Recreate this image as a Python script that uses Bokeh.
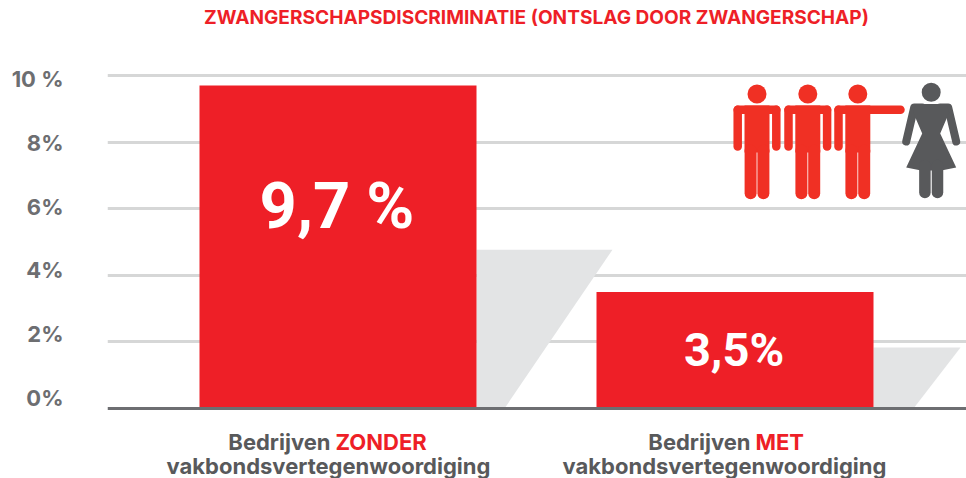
from bokeh.plotting import figure
from bokeh.models import Range1d, LinearAxis, FixedTicker, Grid, Span
from bokeh.core.properties import value
from bokeh.embed import file_html
from bokeh.resources import INLINE

# ---- data
title_text = "ZWANGERSCHAPSDISCRIMINATIE (ONTSLAG DOOR ZWANGERSCHAP)"
bar_values = [9.7, 3.5]
bar_labels = ["9,7 %", "3,5%"]
shadow_values = [4.77, 1.83]
cat_first = ["Bedrijven", "Bedrijven"]
cat_accent = ["ZONDER", "MET"]
cat_second = ["vakbondsvertegenwoordiging", "vakbondsvertegenwoordiging"]
tick_values = [0, 2, 4, 6, 8, 10]
tick_labels = ["0%", "2%", "4%", "6%", "8%", "10 %"]

# ---- style / layout
W, H = 966, 478
RED = "#ee1f27"
MAN = "#f03024"
DARK = "#58595b"
GREY = "#6d6e71"
FONT = "Inter"
COND = "Roboto"
Y0, PX_PER_UNIT = 408, 33.3
bar_x = [337.5, 734.5]
bar_w = 277
label_x = [328, 724]
split_x = [330, 750]

p = figure(width=W, height=H, output_backend="svg", toolbar_location=None,
           x_range=Range1d(107, W),
           y_range=Range1d((Y0 - H) / PX_PER_UNIT, Y0 / PX_PER_UNIT),
           x_axis_location=None, y_axis_location=None,
           min_border=0, min_border_left=107, outline_line_color=None)
p.background_fill_color = "white"
p.border_fill_color = "white"
p.xgrid.visible = False
p.ygrid.visible = False
p.extra_y_ranges = {"px": Range1d(H, 0),
                    "ticklab": Range1d(-(H - 397.5) / 31.9, 397.5 / 31.9)}

p.add_layout(Grid(dimension=1, ticker=FixedTicker(ticks=tick_values[1:]),
                  grid_line_color="#d6d7d7", grid_line_width=3))

ax = LinearAxis(y_range_name="ticklab", ticker=FixedTicker(ticks=tick_values),
                major_label_overrides={t: s for t, s in zip(tick_values, tick_labels)},
                axis_line_color=None, major_tick_line_color=None, minor_tick_line_color=None,
                major_label_standoff=38, major_label_text_font=FONT,
                major_label_text_font_style="bold", major_label_text_font_size="22px",
                major_label_text_color=GREY)
p.add_layout(ax, "left")

# shadows
for cx, v, dx_top, dx_bot in zip(bar_x, shadow_values, (136, 87), (28, 40)):
    right = cx + bar_w / 2
    p.patch([right, right + dx_top, right + dx_bot, right], [v, v, 0, 0],
            fill_color="#e3e4e5", line_color=None)

# bars
p.vbar(x=bar_x, top=bar_values, width=bar_w, bottom=0, fill_color=RED, line_color=None)
p.add_layout(Span(location=0, dimension="width", line_color=GREY, line_width=3, level="overlay"))

# bar value labels
p.text(x=[bar_x[0] - 1], y=[205], text=[bar_labels[0]], y_range_name="px",
       text_font=value(COND), text_font_style="bold", text_font_size="65px",
       text_color="white", text_align="center", text_baseline="middle")
p.text(x=[bar_x[1] - 1], y=[349], text=[bar_labels[1]], y_range_name="px",
       text_font=value(COND), text_font_style="bold", text_font_size="47px",
       text_color="white", text_align="center", text_baseline="middle")

# title
p.text(x=[536], y=[16], text=[title_text], y_range_name="px", text_font=value(FONT),
       text_font_style="bold", text_font_size="19.1px", text_color=RED,
       text_align="center", text_baseline="middle")

# category labels
p.text(x=split_x, y=[441, 441], text=cat_first, y_range_name="px", text_font=value(FONT),
       text_font_style="bold", text_font_size="22px", text_color=DARK,
       text_align="right", text_baseline="alphabetic")
p.text(x=[s + 5 for s in split_x], y=[441, 441], text=cat_accent, y_range_name="px", text_font=value(FONT),
       text_font_style="bold", text_font_size="22px", text_color=RED,
       text_align="left", text_baseline="alphabetic")
p.text(x=label_x, y=[465, 465], text=cat_second, y_range_name="px", text_font=value(FONT),
       text_font_style="bold", text_font_size="22px", text_color=DARK,
       text_align="center", text_baseline="alphabetic")


def stroke(xs, ys, color, w):
    p.line(xs, ys, y_range_name="px", line_color=color, line_width=w,
           line_cap="round", line_join="round")


def head(cx, cy, color):
    p.scatter([cx], [cy], y_range_name="px", marker="circle", size=19,
              fill_color=color, line_color=None)


def man(cx, pointing=False):
    head(cx, 93.5, MAN)
    p.patch([cx - 12.5, cx + 12.5, cx + 12.5, cx - 12.5], [105, 105, 152, 152], y_range_name="px",
            fill_color=MAN, line_color=None)
    if pointing:
        stroke([cx - 19.3, cx - 19.3], [146, 109.2], MAN, 8.5)
        stroke([cx - 19.3, 900], [109.2, 109.2], MAN, 8.5)
    else:
        stroke([cx - 19.3, cx - 19.3], [146, 109.2], MAN, 8.5)
        stroke([cx - 19.3, cx + 19.3], [109.2, 109.2], MAN, 8.5)
        stroke([cx + 19.3, cx + 19.3], [109.2, 146], MAN, 8.5)
    stroke([cx - 6.4, cx - 6.4], [150, 192.8], MAN, 12)
    stroke([cx + 6.4, cx + 6.4], [150, 192.8], MAN, 12)


def woman(cx):
    head(cx, 91.7, DARK)
    stroke([cx - 9, cx - 17, cx - 25], [107, 107, 141], DARK, 8)
    stroke([cx + 9, cx + 17, cx + 25], [107, 107, 141], DARK, 8)
    p.patch([cx - 15, cx + 15, cx + 18, cx + 9, cx + 25, cx + 10, cx - 10, cx - 25, cx - 9, cx - 18],
            [103.5, 103.5, 112, 133, 167, 170, 170, 167, 133, 112],
            y_range_name="px", fill_color=DARK, line_color=None)
    stroke([cx - 6.3, cx - 6.3], [165, 192], DARK, 11.5)
    stroke([cx + 6.3, cx + 6.3], [165, 192], DARK, 11.5)


man(756.5)
man(807.3)
man(857.3, pointing=True)
woman(930.7)

open("out.html", "w").write(file_html(p, INLINE))
